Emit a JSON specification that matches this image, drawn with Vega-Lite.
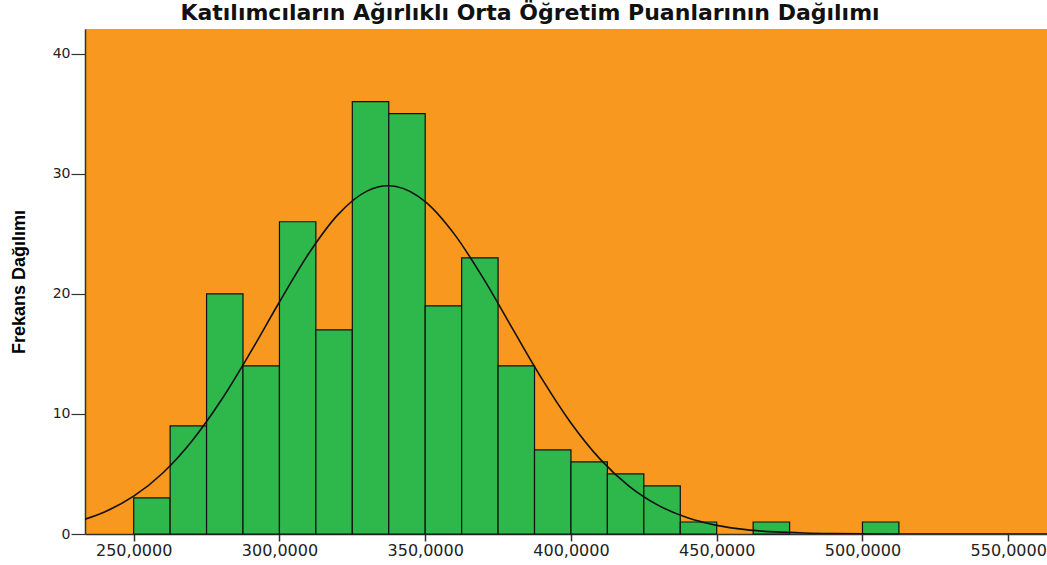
{
  "$schema": "https://vega.github.io/schema/vega-lite/v6.json",
  "autosize": "none",
  "width": 962,
  "height": 505,
  "padding": {"left": 85, "top": 29, "right": 0, "bottom": 31},
  "background": "white",
  "title": {
    "text": "Katılımcıların Ağırlıklı Orta Öğretim Puanlarının Dağılımı",
    "font": "DejaVu Sans",
    "fontSize": 22,
    "fontWeight": "bold",
    "color": "#111111",
    "anchor": "middle",
    "dx": -36,
    "offset": 4
  },
  "config": {
    "view": {"fill": "#F8981E", "stroke": null},
    "axis": {"labelFont": "DejaVu Sans", "titleFont": "Liberation Sans"}
  },
  "datasets": {
    "bins": [
      {"start": 250.0, "end": 262.5, "count": 3},
      {"start": 262.5, "end": 275.0, "count": 9},
      {"start": 275.0, "end": 287.5, "count": 20},
      {"start": 287.5, "end": 300.0, "count": 14},
      {"start": 300.0, "end": 312.5, "count": 26},
      {"start": 312.5, "end": 325.0, "count": 17},
      {"start": 325.0, "end": 337.5, "count": 36},
      {"start": 337.5, "end": 350.0, "count": 35},
      {"start": 350.0, "end": 362.5, "count": 19},
      {"start": 362.5, "end": 375.0, "count": 23},
      {"start": 375.0, "end": 387.5, "count": 14},
      {"start": 387.5, "end": 400.0, "count": 7},
      {"start": 400.0, "end": 412.5, "count": 6},
      {"start": 412.5, "end": 425.0, "count": 5},
      {"start": 425.0, "end": 437.5, "count": 4},
      {"start": 437.5, "end": 450.0, "count": 1},
      {"start": 462.5, "end": 475.0, "count": 1},
      {"start": 500.0, "end": 512.5, "count": 1}
    ],
    "curve": [
      {"x": 233.3, "y": 1.239},
      {"x": 240, "y": 1.838},
      {"x": 250, "y": 3.147},
      {"x": 260, "y": 5.083},
      {"x": 270, "y": 7.745},
      {"x": 280, "y": 11.133},
      {"x": 290, "y": 15.10},
      {"x": 300, "y": 19.32},
      {"x": 310, "y": 23.33},
      {"x": 320, "y": 26.57},
      {"x": 330, "y": 28.55},
      {"x": 337.3, "y": 29.0},
      {"x": 340, "y": 28.94},
      {"x": 350, "y": 27.68},
      {"x": 360, "y": 24.97},
      {"x": 370, "y": 21.26},
      {"x": 380, "y": 17.08},
      {"x": 390, "y": 12.94},
      {"x": 400, "y": 9.249},
      {"x": 410, "y": 6.237},
      {"x": 420, "y": 3.969},
      {"x": 430, "y": 2.382},
      {"x": 440, "y": 1.349},
      {"x": 450, "y": 0.721},
      {"x": 460, "y": 0.363},
      {"x": 470, "y": 0.173},
      {"x": 480, "y": 0.0775},
      {"x": 490, "y": 0.0328},
      {"x": 500, "y": 0.0131},
      {"x": 520, "y": 0.0018},
      {"x": 540, "y": 0.0002},
      {"x": 563.3, "y": 0.0}
    ]
  },
  "layer": [
    {
      "data": {"name": "bins"},
      "mark": {"type": "rect", "fill": "#2EB84C", "stroke": "#111111", "strokeWidth": 1.2},
      "encoding": {
        "x": {
          "field": "start",
          "type": "quantitative",
          "scale": {"domain": [233.3, 563.3], "nice": false, "zero": false},
          "axis": {
            "values": [250, 300, 350, 400, 450, 500, 550],
            "labelExpr": "replace(format(datum.value, '.4f'), '.', ',')",
            "title": null,
            "grid": false,
            "domainColor": "#333333",
            "domainWidth": 1.5,
            "tickColor": "#333333",
            "tickSize": 7,
            "tickWidth": 1.5,
            "labelFontSize": 16,
            "labelColor": "#222222",
            "labelPadding": 1
          }
        },
        "x2": {"field": "end"},
        "y": {
          "field": "count",
          "type": "quantitative",
          "scale": {"domain": [0, 42.05], "nice": false},
          "axis": {
            "values": [0, 10, 20, 30, 40],
            "title": "Frekans Dağılımı",
            "titleFontSize": 18,
            "titleFontWeight": "bold",
            "titleColor": "#000000",
            "titlePadding": 24,
            "grid": false,
            "domainColor": "#333333",
            "domainWidth": 1.5,
            "tickColor": "#333333",
            "tickSize": 14,
            "tickWidth": 1.2,
            "labelFontSize": 14,
            "labelColor": "#222222",
            "labelPadding": 1
          }
        },
        "y2": {"datum": 0}
      }
    },
    {
      "data": {"name": "curve"},
      "mark": {"type": "line", "color": "#111111", "strokeWidth": 1.6, "interpolate": "monotone", "clip": true},
      "encoding": {
        "x": {"field": "x", "type": "quantitative"},
        "y": {"field": "y", "type": "quantitative"}
      }
    }
  ]
}
